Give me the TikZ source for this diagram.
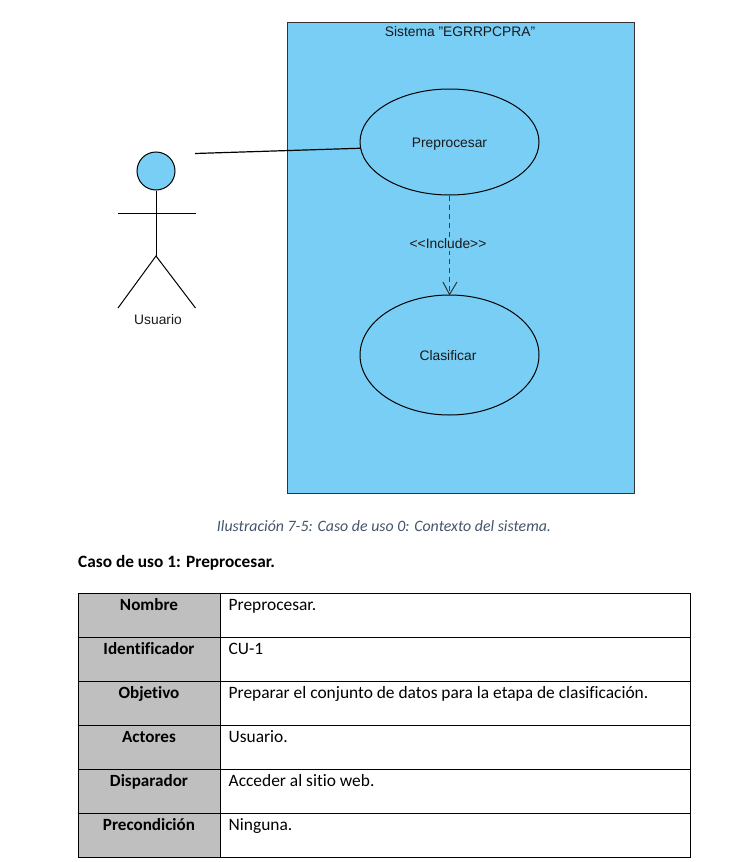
\documentclass[tikz,border=0pt]{standalone}
\usepackage{fontspec}
\setmainfont{Liberation Sans}
\newfontfamily\calibri[Ligatures=NoCommon]{Carlito}
\usetikzlibrary{shapes.geometric,arrows.meta}
\definecolor{sysblue}{HTML}{79CEF5}
\definecolor{cellgray}{HTML}{BFBFBF}
\definecolor{capblue}{HTML}{44546A}
\tikzset{
  x=1pt,y=-1pt,
  uml/.style={font=\fontsize{13.8}{16}\selectfont,inner sep=0pt,text=black!90},
  usecase/.style={ellipse,draw=black,line width=1pt,fill=sysblue,minimum width=179pt,minimum height=106pt,inner sep=0pt,font=\fontsize{13.8}{16}\selectfont,text height=10pt,text depth=0pt,text=black!90},
  limb/.style={draw=black,line width=1pt},
  headcell/.style={draw=black,line width=0.9pt,fill=cellgray,anchor=north west,minimum width=142pt,minimum height=44pt,inner sep=0pt},
  bodycell/.style={draw=black,line width=0.9pt,anchor=north west,minimum width=470.5pt,minimum height=44pt,inner sep=0pt},
  headtext/.style={font=\calibri\bfseries\fontsize{17.1}{20}\selectfont,inner sep=0pt,anchor=base},
  bodytext/.style={font=\calibri\fontsize{17.4}{20}\selectfont,inner sep=0pt,anchor=base west},
}
\begin{document}
\begin{tikzpicture}
\useasboundingbox (0,0) rectangle (743,862);
\node[draw=black!80,line width=1pt,fill=sysblue,anchor=north west,minimum width=347pt,minimum height=471pt,inner sep=0pt] (sys) at (287,22) {};
\node[uml] (systitle) at (460,32) {Sistema \char34 EGRRPCPRA\char34};
\node[usecase] (pre) at (449.5,142) {Preprocesar};
\node[usecase,minimum height=120pt] (cla) at (449.5,355) {\hspace{-3pt}Clasificar};
% actor
\node[circle,draw=black,line width=1pt,fill=sysblue,minimum size=38pt,inner sep=0pt] (head) at (156,171) {};
\coordinate (hip) at (156,256);
\coordinate (armL) at (118,213);
\coordinate (armR) at (195.5,213);
\coordinate (footL) at (118,308);
\coordinate (footR) at (195.5,308);
\coordinate (actorlink) at (195,153.5);
\draw[limb] (head.south) -- (hip);
\draw[limb] (armL) -- (armR);
\draw[limb] (footL) -- (hip) -- (footR);
\node[uml] (usuario) at (158,319.5) {Usuario};
\draw[black,line width=1.2pt] (actorlink) -- (pre.184);
\draw[black!75,line width=1pt,dash pattern=on 5pt off 4pt] (pre.south) -- (cla.north);
\draw[black!80,line width=1pt] (443,282) -- (cla.north) -- (457,282);
\node[uml,fill=sysblue,inner xsep=1pt,inner ysep=2pt] (inc) at (448,244) {<{}<Include>{}>};
% caption
\node[font=\calibri\itshape\fontsize{15.85}{19}\selectfont,text=capblue,inner sep=0pt] (cap) at (384,526) {Ilustración 7-5: Caso de uso 0: Contexto del sistema.};
\node[font=\calibri\bfseries\fontsize{17.3}{20}\selectfont,anchor=base west,inner sep=0pt] (case) at (78,567) {Caso de uso 1: Preprocesar.};
% table
\foreach \i/\y/\h/\b in {1/593/Nombre/Preprocesar.,2/637/Identificador/CU-1,3/681/Objetivo/Preparar el conjunto de datos para la etapa de clasificación.,4/725/Actores/Usuario.,5/769/Disparador/Acceder al sitio web.,6/813/Precondición/Ninguna.}{
  \node[headcell] (h\i) at (77.5,\y) {};
  \node[bodycell] (b\i) at (219.5,\y) {};
  \node[headtext] (ht\i) at (149,\y+17.5) {\h};
  \node[bodytext] (bt\i) at (228.5,\y+17.5) {\b};
}
\end{tikzpicture}
\end{document}
